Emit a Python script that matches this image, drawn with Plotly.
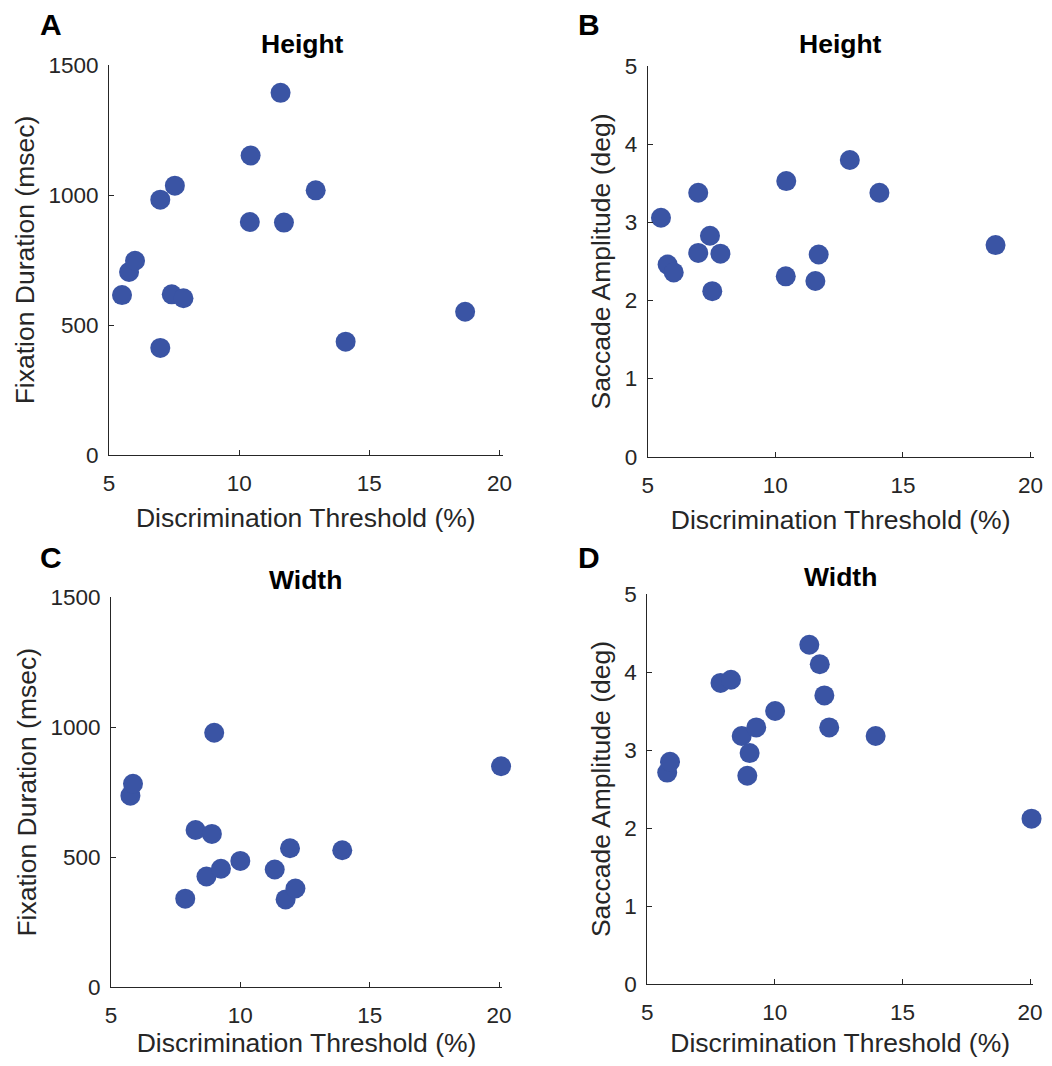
import plotly.graph_objects as go

# ---------------- data ----------------
# Panel A: Height - Fixation Duration
a_thresh = [5.50, 5.77, 6.00, 6.97, 6.97, 7.41, 7.53, 7.86, 10.41, 10.44, 11.59, 11.72, 12.94, 14.09, 18.68]
a_fixdur = [615, 704, 747, 982, 412, 618, 1036, 603, 896, 1152, 1393, 894, 1018, 436, 551]

# Panel B: Height - Saccade Amplitude
b_thresh = [5.52, 5.78, 6.02, 6.98, 6.98, 7.44, 7.53, 7.85, 10.43, 10.41, 11.70, 11.57, 12.92, 14.08, 18.63]
b_sacamp = [3.06, 2.46, 2.36, 3.38, 2.61, 2.83, 2.12, 2.60, 3.53, 2.31, 2.59, 2.25, 3.80, 3.38, 2.71]

# Panel C: Width - Fixation Duration
c_thresh = [5.75, 5.85, 7.87, 8.27, 8.69, 8.90, 8.99, 9.25, 10.00, 11.33, 11.75, 11.92, 12.13, 13.94, 20.08]
c_fixdur = [737, 783, 341, 605, 426, 590, 979, 456, 486, 453, 338, 535, 380, 527, 850]

# Panel D: Width - Saccade Amplitude
d_thresh = [5.78, 5.89, 7.87, 8.28, 8.70, 8.92, 9.01, 9.27, 10.01, 11.35, 11.76, 11.94, 12.13, 13.95, 20.06]
d_sacamp = [2.71, 2.85, 3.86, 3.90, 3.18, 2.67, 2.96, 3.29, 3.50, 4.35, 4.10, 3.70, 3.29, 3.18, 2.12]

x_ticks = [5, 10, 15, 20]
fix_ticks = [0, 500, 1000, 1500]
sac_ticks = [0, 1, 2, 3, 4, 5]

panel_letters = ["A", "B", "C", "D"]
panel_titles = ["Height", "Height", "Width", "Width"]
x_title = "Discrimination Threshold (%)"
y_titles = ["Fixation Duration (msec)", "Saccade Amplitude (deg)",
            "Fixation Duration (msec)", "Saccade Amplitude (deg)"]

# ---------------- layout geometry (pixels) ----------------
PAGE_W, PAGE_H = 1052, 1066
OFF = 8                      # default body margin of the html page
W, H = PAGE_W - 2 * OFF, PAGE_H - 2 * OFF
FONT = "Liberation Sans"
TXT = "#262626"
MARK = "#3A54A4"
X_EXTRA = 0.12  # small range headroom so points at ~20.08 are not hidden

# (left, right, top, bottom) of each axes box in page px (right = position of x=20)
boxes = [
    (109, 499.5, 65, 455),
    (647.7, 1030.5, 66.3, 456.7),
    (111, 499, 597.3, 987.3),
    (647.3, 1030, 594, 984),
]
title_pos = [(302, 43.5), (840, 43.5), (305, 580), (840, 577)]
letter_pos = [(51, 24), (589, 24), (51, 557), (589, 557)]

def xd(px):
    return (px - OFF) / W

def yd(py):
    return 1 - (py - OFF) / H

fig = go.Figure()

series = [
    (a_thresh, a_fixdur, fix_ticks),
    (b_thresh, b_sacamp, sac_ticks),
    (c_thresh, c_fixdur, fix_ticks),
    (d_thresh, d_sacamp, sac_ticks),
]

annotations = []
for i, ((xs, ys, yt), (l, r, t, b)) in enumerate(zip(series, boxes)):
    n = "" if i == 0 else str(i + 1)
    fig.add_trace(go.Scatter(
        x=xs, y=ys, mode="markers",
        marker=dict(size=20, color=MARK, line=dict(width=0)),
        xaxis="x" + n, yaxis="y" + n, cliponaxis=False, showlegend=False,
        hoverinfo="x+y",
    ))
    axis_common = dict(
        showgrid=False, zeroline=False, showline=True, linecolor=TXT, linewidth=1,
        ticks="inside", ticklen=5, tickwidth=1, tickcolor=TXT,
        tickfont=dict(family=FONT, size=22.5, color=TXT),
        mirror=False, automargin=False, ticklabeloverflow="allow",
    )
    span = x_ticks[-1] - x_ticks[0]
    r_ext = l + (r - l) * (span + X_EXTRA) / span
    fig.update_layout(**{
        "xaxis" + n: dict(
            domain=[xd(l), xd(r_ext)], range=[x_ticks[0], x_ticks[-1] + X_EXTRA],
            tickvals=x_ticks, anchor="y" + n, ticklabelstandoff=8,
            title=dict(text=x_title, font=dict(family=FONT, size=26.5, color=TXT), standoff=13),
            **axis_common,
        ),
        "yaxis" + n: dict(
            domain=[yd(b), yd(t)], range=[yt[0], yt[-1]],
            tickvals=yt, anchor="x" + n, ticklabelstandoff=5,
            title=dict(text=y_titles[i], font=dict(family=FONT, size=26.5, color=TXT), standoff=6),
            **axis_common,
        ),
    })
    tx, ty = title_pos[i]
    annotations.append(dict(
        text="<b>%s</b>" % panel_titles[i], x=xd(tx), y=yd(ty),
        xref="paper", yref="paper", xanchor="center", yanchor="middle",
        showarrow=False, font=dict(family=FONT, size=26.5, color="#000000"),
    ))
    lx, ly = letter_pos[i]
    annotations.append(dict(
        text="<b>%s</b>" % panel_letters[i], x=xd(lx), y=yd(ly),
        xref="paper", yref="paper", xanchor="center", yanchor="middle",
        showarrow=False, font=dict(family=FONT, size=30, color="#000000"),
    ))

fig.update_layout(
    template="none",
    width=W, height=H,
    margin=dict(l=0, r=0, t=0, b=0, pad=0),
    paper_bgcolor="white", plot_bgcolor="white",
    annotations=annotations,
    font=dict(family=FONT, color=TXT),
)

fig.write_html("out.html")
